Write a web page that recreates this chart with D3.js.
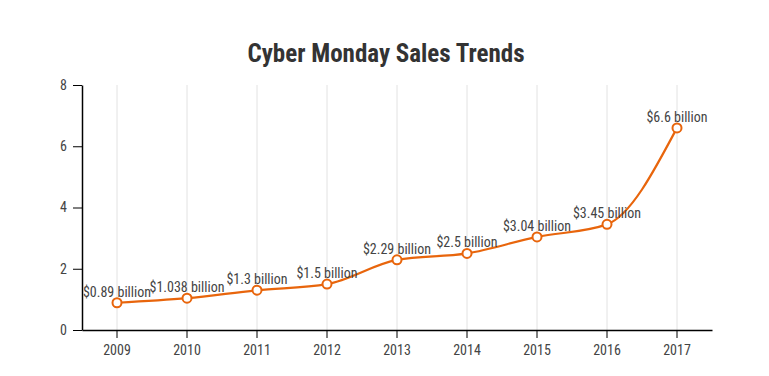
<!DOCTYPE html>
<html><head><meta charset="utf-8">
<script src="https://cdn.jsdelivr.net/npm/d3@7"></script>
<style>
body{margin:0;background:#fff;}
text{font-family:"Roboto Condensed","Roboto",sans-serif;}
</style></head>
<body><svg id="c" width="769" height="376"></svg>
<script>
const years = ["2009","2010","2011","2012","2013","2014","2015","2016","2017"];
const sales = [0.89, 1.038, 1.3, 1.5, 2.29, 2.5, 3.04, 3.45, 6.6];
const labels = ["$0.89 billion","$1.038 billion","$1.3 billion","$1.5 billion","$2.29 billion","$2.5 billion","$3.04 billion","$3.45 billion","$6.6 billion"];
const yTicks = [0,2,4,6,8];
const title = "Cyber Monday Sales Trends";

const svg = d3.select("#c");
const m = {left:82, right:57, top:85, bottom:46};
const W = 769, H = 376;
const x = d3.scaleBand().domain(years).range([m.left, W - m.right]);
const y = d3.scaleLinear().domain([0,8]).range([H - m.bottom, m.top]);
const cx = d => x(d) + x.bandwidth()/2;

// grid
svg.append("g").selectAll("line").data(years).join("line")
  .attr("x1", cx).attr("x2", cx).attr("y1", y(8)).attr("y2", y(0))
  .attr("stroke", "#e2e2e2").attr("stroke-width", 1);

// axes
const gx = svg.append("g").attr("transform", `translate(0,${y(0)})`)
  .call(d3.axisBottom(x).tickSize(8).tickSizeOuter(0));
gx.select(".domain").attr("stroke","#000").attr("stroke-width",1.5);
gx.selectAll(".tick line").attr("stroke","#000");
gx.selectAll(".tick text").attr("fill","#444").attr("font-size",14).attr("dy","1.0em");

const gy = svg.append("g").attr("transform", `translate(${m.left},0)`)
  .call(d3.axisLeft(y).tickValues(yTicks).tickSize(9).tickSizeOuter(0));
gy.select(".domain").attr("stroke","#000").attr("stroke-width",1.5);
gy.selectAll(".tick line").attr("stroke","#000");
gy.selectAll(".tick text").attr("fill","#444").attr("font-size",14).attr("x",-15);

// line
const data = years.map((yr,i)=>({yr, v:sales[i], l:labels[i]}));
svg.append("path").datum(data)
  .attr("fill","none").attr("stroke","#e8650c").attr("stroke-width",2.2)
  .attr("d", d3.line().x(d=>cx(d.yr)).y(d=>y(d.v)).curve(d3.curveMonotoneX));

svg.append("g").selectAll("circle").data(data).join("circle")
  .attr("cx", d=>cx(d.yr)).attr("cy", d=>y(d.v)).attr("r",4.5)
  .attr("fill","#fff").attr("stroke","#e8650c").attr("stroke-width",2);

svg.append("g").selectAll("text").data(data).join("text")
  .attr("x", d=>cx(d.yr)).attr("y", d=>y(d.v)-6)
  .attr("text-anchor","middle").attr("fill","#444").attr("font-size",14)
  .text(d=>d.l);

svg.append("text").attr("x", 386).attr("y", 62).attr("text-anchor","middle")
  .attr("font-size",25).attr("font-weight","bold").attr("fill","#333").text(title);
</script></body></html>
